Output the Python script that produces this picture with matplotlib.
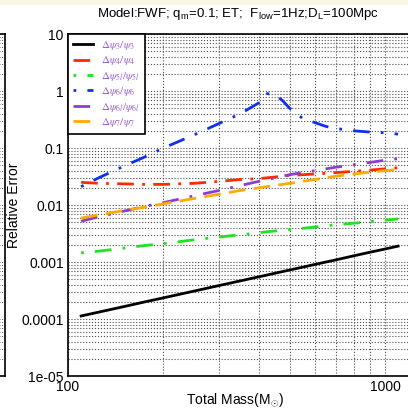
import matplotlib
matplotlib.use('Agg')
import matplotlib.pyplot as plt
from matplotlib.patches import Rectangle
from matplotlib.ticker import LogLocator, NullFormatter, FixedLocator

plt.rcParams['font.family'] = ['Liberation Sans', 'DejaVu Sans']
plt.rcParams['mathtext.fontset'] = 'custom'
plt.rcParams['mathtext.rm'] = 'Liberation Sans'
plt.rcParams['mathtext.it'] = 'Liberation Sans'

# total mass (solar masses)
mass = [110, 125, 150, 175, 200, 250, 300, 350, 400, 425, 450, 475, 500, 550,
        600, 650, 700, 800, 900, 1000, 1100]

# relative errors
err_psi3 = [1.13e-4, 1.32e-4, 1.65e-4, 2.0e-4, 2.35e-4, 3.09e-4, 3.87e-4, 4.67e-4,
            5.5e-4, 5.92e-4, 6.36e-4, 6.79e-4, 7.23e-4, 8.12e-4, 9.04e-4, 9.97e-4,
            1.09e-3, 1.29e-3, 1.49e-3, 1.69e-3, 1.9e-3]
err_psi4 = [0.025, 0.024, 0.0235, 0.023, 0.023, 0.024, 0.026, 0.028, 0.029,
            0.030, 0.031, 0.032, 0.033, 0.034, 0.035, 0.036, 0.037, 0.039,
            0.041, 0.043, 0.045]
err_psi5l = [1.45e-3, 1.55e-3, 1.75e-3, 1.95e-3, 2.1e-3, 2.45e-3, 2.75e-3,
             3.0e-3, 3.25e-3, 3.4e-3, 3.5e-3, 3.6e-3, 3.7e-3, 3.9e-3, 4.1e-3,
             4.3e-3, 4.5e-3, 4.8e-3, 5.1e-3, 5.4e-3, 5.7e-3]
err_psi6 = [0.021, 0.03, 0.048, 0.07, 0.1, 0.17, 0.27, 0.4, 0.62, 0.9, 0.86,
            0.68, 0.5, 0.33, 0.28, 0.24, 0.22, 0.2, 0.19, 0.185, 0.175]
err_psi6l = [5.2e-3, 6.2e-3, 7.8e-3, 9.5e-3, 0.011, 0.0145, 0.018, 0.022, 0.026,
             0.028, 0.030, 0.032, 0.034, 0.037, 0.040, 0.043, 0.046, 0.051,
             0.056, 0.061, 0.065]
err_psi7 = [5.9e-3, 6.7e-3, 8.0e-3, 9.2e-3, 0.0105, 0.013, 0.0155, 0.018, 0.02,
            0.021, 0.022, 0.023, 0.024, 0.026, 0.028, 0.030, 0.032, 0.035,
            0.038, 0.040, 0.042]

labels = [r'$\Delta\psi_3/\psi_3$', r'$\Delta\psi_4/\psi_4$', r'$\Delta\psi_{5l}/\psi_{5l}$',
          r'$\Delta\psi_6/\psi_6$', r'$\Delta\psi_{6l}/\psi_{6l}$', r'$\Delta\psi_7/\psi_7$']

W, H = 408, 411
fig = plt.figure(figsize=(W / 100, H / 100), dpi=100)

# beige strip along the top
fig.patches.append(Rectangle((0, 1 - 5 / H), 1, 5 / H, transform=fig.transFigure,
                             facecolor='#fcf7e4', edgecolor='none'))

bottom = (H - 376) / H
height = (376 - 34) / H

# right edge of a neighbouring panel (cut off)
axl = fig.add_axes([-0.5, bottom, 0.5 + 5 / W, height])
axl.set_xscale('log')
axl.set_yscale('log')
axl.set_xlim(100, 1250)
axl.set_ylim(1e-5, 10)
axl.grid(True, which='both', color='0.35', linestyle=':', linewidth=0.7)
axl.tick_params(which='both', length=0, labelleft=False, labelbottom=False)
axl.patch.set_alpha(0)
for s in axl.spines.values():
    s.set_linewidth(1.2)

ax = fig.add_axes([68 / W, bottom, 347.7 / W, height])
ax.set_xscale('log')
ax.set_yscale('log')

ax.plot(mass, err_psi3, color='black', lw=2, label=labels[0])
ax.plot(mass, err_psi4, color='#ff2a00', lw=2, dashes=(6, 3, 1, 3), label=labels[1])
ax.plot(mass, err_psi5l, color='#1ee31e', lw=2, dashes=(1, 4, 6, 4), label=labels[2])
ax.plot(mass, err_psi6, color='#1030f0', lw=2, dashes=(1, 4, 6, 4), label=labels[3])
ax.plot(mass, err_psi6l, color='#8a3fd0', lw=2, dashes=(6, 4, 1, 4), label=labels[4])
ax.plot(mass, err_psi7, color='#ffaa00', lw=2, dashes=(6, 3), label=labels[5])

ax.set_xlim(100, 1250)
ax.set_ylim(1e-5, 10)
ax.xaxis.set_major_locator(FixedLocator([100, 1000]))
ax.set_xticklabels(['100', '1000'])
ax.xaxis.set_minor_locator(LogLocator(base=10, subs=range(2, 10)))
ax.xaxis.set_minor_formatter(NullFormatter())
ax.yaxis.set_major_locator(FixedLocator([1e-5, 1e-4, 1e-3, 1e-2, 0.1, 1, 10]))
ax.set_yticklabels(['1e-05', '0.0001', '0.001', '0.01', '0.1', '1', '10'])
ax.yaxis.set_minor_locator(LogLocator(base=10, subs=range(2, 10)))
ax.yaxis.set_minor_formatter(NullFormatter())
ax.grid(True, which='both', color='0.3', linestyle=':', linewidth=0.8)
ax.tick_params(which='both', length=0, labelsize=10, pad=3)
for s in ax.spines.values():
    s.set_linewidth(1.2)

ax.set_xlabel(r'Total Mass(M$_{\odot}$)', fontsize=10)
ax.set_ylabel('Relative Error', fontsize=10)
ax.xaxis.set_label_coords(0.48, -0.07)
ax.yaxis.set_label_coords(-0.155, 0.5)
ax.xaxis.label.set_va('center')
ax.yaxis.label.set_va('center')

leg = ax.legend(loc='upper left', frameon=True, fancybox=False,
                borderaxespad=0, handlelength=1.8, labelspacing=0.22,
                borderpad=0.45, handletextpad=0.7,
                prop={'size': 8, 'math_fontfamily': 'stix'})
leg.get_frame().set_edgecolor('black')
leg.get_frame().set_linewidth(1.2)
leg.get_frame().set_alpha(1)
for t in leg.get_texts():
    t.set_color('#9a5fd8')

fig.text(238 / W, 1 - 14 / H, r'Model:FWF; q$_m$=0.1; ET;  F$_{low}$=1Hz;D$_L$=100Mpc',
         ha='center', va='center', fontsize=9.5)

fig.savefig('out.png', dpi=100)
